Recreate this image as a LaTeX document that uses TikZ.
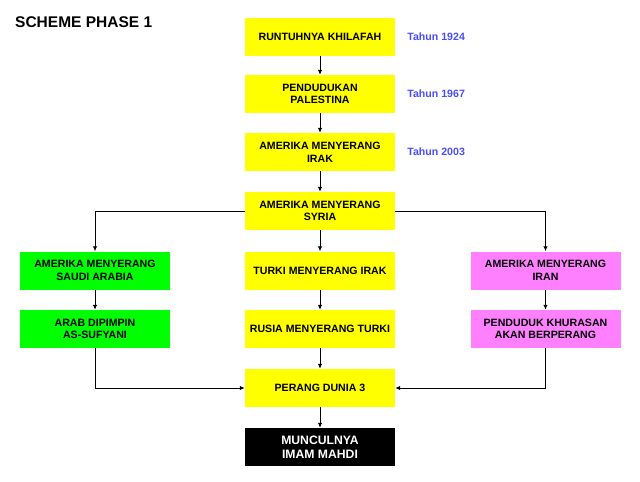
\documentclass[tikz,border=0pt]{standalone}
\usepackage{fontspec}
\setmainfont{Liberation Sans}
\usetikzlibrary{positioning,arrows.meta}
\definecolor{kuning}{HTML}{FFFF00}
\definecolor{hijau}{HTML}{00FF00}
\definecolor{ungu}{HTML}{FF80FF}
\definecolor{biru}{HTML}{4B4BFF}
\begin{document}
\begin{tikzpicture}[
        x=1pt, y=-1pt,
        kotak/.style={rectangle, fill=kuning, align=center, minimum height=38pt, minimum width=150pt, inner sep=0pt, font=\bfseries\fontsize{10.6}{12.6}\selectfont},
        kotakhijau/.style={kotak, fill=hijau},
        kotakungu/.style={kotak, fill=ungu},
        kotakhitam/.style={kotak, fill=black, text=white, font=\bfseries\fontsize{12.2}{14.2}\selectfont},
        tahun/.style={text=biru, font=\bfseries\fontsize{10.6}{12}\selectfont, inner sep=0pt},
        panah/.style={-{Latex[length=5pt,width=4.5pt]}, line width=1pt}
    ]
        \useasboundingbox (0,0) rectangle (640,482);
        \node[anchor=west, inner sep=0pt, font=\bfseries\fontsize{15.5}{17}\selectfont] (judul) at (15,22) {SCHEME PHASE 1};

        \node[kotak] (runtuh) at (320,36.5) {RUNTUHNYA KHILAFAH};
        \node[kotak] (palestina) at (320,94) {PENDUDUKAN\\PALESTINA};
        \node[kotak] (irak) at (320,152) {AMERIKA MENYERANG\\IRAK};
        \node[kotak] (syria) at (320,211) {AMERIKA MENYERANG\\SYRIA};
        \node[kotak] (turki) at (320,270.5) {TURKI MENYERANG IRAK};
        \node[kotak] (rusia) at (320,329) {RUSIA MENYERANG TURKI};
        \node[kotak] (perang) at (320,388) {PERANG DUNIA 3};
        \node[kotakhitam] (mahdi) at (320,447) {MUNCULNYA\\IMAM MAHDI};

        \node[kotakhijau] (saudi) at (95,270.5) {AMERIKA MENYERANG\\SAUDI ARABIA};
        \node[kotakhijau] (sufyani) at (95,329) {ARAB DIPIMPIN\\AS-SUFYANI};
        \node[kotakungu] (iran) at (545.5,270.5) {AMERIKA MENYERANG\\IRAN};
        \node[kotakungu] (khurasan) at (545.5,329) {PENDUDUK KHURASAN\\AKAN BERPERANG};

        \node[tahun, right=12pt of runtuh] (t1924) {Tahun 1924};
        \node[tahun, right=12pt of palestina] (t1967) {Tahun 1967};
        \node[tahun, right=12pt of irak] (t2003) {Tahun 2003};

        \draw[panah] (runtuh) -- (palestina);
        \draw[panah] (palestina) -- (irak);
        \draw[panah] (irak) -- (syria);
        \draw[panah] (syria) -- (turki);
        \draw[panah] (turki) -- (rusia);
        \draw[panah] (rusia) -- (perang);
        \draw[panah] (perang) -- (mahdi);
        \draw[panah] (syria) -| (saudi);
        \draw[panah] (syria) -| (iran);
        \draw[panah] (saudi) -- (sufyani);
        \draw[panah] (iran) -- (khurasan);
        \draw[panah] (sufyani) |- (perang);
        \draw[panah] (khurasan) |- (perang);
    \end{tikzpicture}
\end{document}
